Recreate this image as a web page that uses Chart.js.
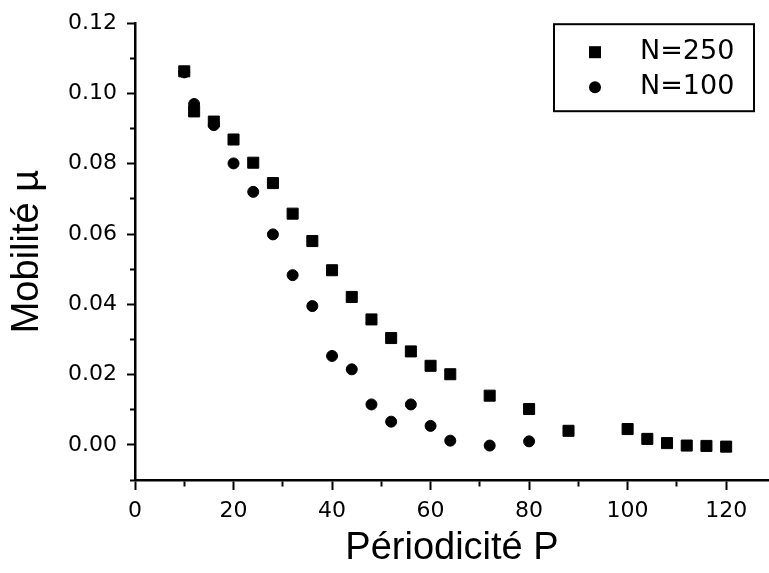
<!DOCTYPE html>
<html>
<head>
<meta charset="utf-8">
<script src="https://cdn.jsdelivr.net/npm/chart.js@4"></script>
<style>
  html, body { margin: 0; padding: 0; background: #fff; }
</style>
</head>
<body>
<canvas id="chart" width="769" height="573"></canvas>
<script>
// values
const periods250 = [10, 12, 16, 20, 24, 28, 32, 36, 40, 44, 48, 52, 56, 60, 64, 72, 80, 88, 100, 104, 108, 112, 116, 120];
const mobility250 = [0.1063, 0.0949, 0.0920, 0.0869, 0.0803, 0.0745, 0.0658, 0.0580, 0.0497, 0.0421, 0.0357, 0.0304, 0.0266, 0.0225, 0.0201, 0.0140, 0.0102, 0.0040, 0.0045, 0.0017, 0.0005, -0.0002, -0.0003, -0.0005];
const periods100 = [10, 12, 16, 20, 24, 28, 32, 36, 40, 44, 48, 52, 56, 60, 64, 72, 80];
const mobility100 = [0.1060, 0.0970, 0.0910, 0.0801, 0.0720, 0.0599, 0.0483, 0.0395, 0.0253, 0.0215, 0.0115, 0.0066, 0.0115, 0.0054, 0.0012, -0.0002, 0.0010];
const seriesLabels = ['N=250', 'N=100'];
const xTitle = 'Périodicité P';
const yTitle = 'Mobilité µ';

function toPoints(xs, ys) {
  return xs.map((x, i) => ({ x: x, y: ys[i] }));
}

const tickFont = { family: 'DejaVu Sans', size: 22 };
const titleFont = { family: 'Liberation Sans', size: 38 };

// small boxed legend in the top right corner of the plot
const boxedLegend = {
  id: 'boxedLegend',
  afterDraw(chart) {
    const ctx = chart.ctx;
    const area = chart.chartArea;
    const left = area.right - 215;
    const top = area.top + 1;
    ctx.save();
    ctx.strokeStyle = '#000';
    ctx.lineWidth = 2;
    ctx.strokeRect(left, top, 200, 87);
    chart.data.datasets.forEach((ds, i) => {
      const cx = left + 41;
      const cy = top + 28 + i * 35;
      ctx.fillStyle = '#000';
      if (ds.pointStyle === 'rect') {
        ctx.fillRect(cx - 6, cy - 6, 12, 12);
      } else {
        ctx.beginPath();
        ctx.arc(cx, cy, 6, 0, Math.PI * 2);
        ctx.fill();
      }
      ctx.font = '27px "DejaVu Sans"';
      ctx.textBaseline = 'middle';
      ctx.textAlign = 'left';
      ctx.fillText(ds.label, left + 86, cy);
    });
    ctx.restore();
  }
};

function isMinorX(v) {
  return Math.round(v) % 20 !== 0;
}
function isMinorY(v) {
  return Math.round(v * 100) % 2 !== 0;
}

new Chart(document.getElementById('chart'), {
  type: 'scatter',
  data: {
    datasets: [
      {
        label: seriesLabels[0],
        data: toPoints(periods250, mobility250),
        pointStyle: 'rect',
        pointRadius: 7.8,
        borderWidth: 1,
        backgroundColor: '#000',
        borderColor: '#000',
      },
      {
        label: seriesLabels[1],
        data: toPoints(periods100, mobility100),
        pointStyle: 'circle',
        pointRadius: 5.5,
        borderWidth: 1,
        backgroundColor: '#000',
        borderColor: '#000',
      },
    ],
  },
  options: {
    responsive: false,
    animation: false,
    devicePixelRatio: 1,
    layout: { autoPadding: false, padding: { top: 22, right: 0, bottom: 0, left: 0 } },
    plugins: {
      legend: { display: false },
      tooltip: { enabled: false },
    },
    scales: {
      x: {
        type: 'linear',
        min: 0,
        max: 128.7,
        afterBuildTicks: (scale) => {
          scale.ticks = scale.ticks.filter((t) => Math.abs(t.value - Math.round(t.value / 10) * 10) < 1e-6);
        },
        afterFit: (scale) => {
          scale.height = 93;
          scale.paddingLeft = 0;
          scale.paddingRight = 0;
        },
        ticks: {
          stepSize: 10,
          includeBounds: false,
          autoSkip: false,
          maxRotation: 0,
          padding: 8,
          color: '#000',
          font: tickFont,
          callback: (v) => (isMinorX(v) ? '' : String(Math.round(v))),
        },
        grid: {
          drawOnChartArea: false,
          tickLength: 10,
          tickWidth: 2,
          tickColor: '#000',
          tickBorderDash: (ctx) => (ctx.tick && isMinorX(ctx.tick.value) ? [5, 30] : []),
        },
        border: { color: '#000', width: 2.5 },
        title: { display: true, text: xTitle, color: '#000', font: titleFont, padding: { top: 0, bottom: 2 } },
      },
      y: {
        type: 'linear',
        min: -0.01,
        max: 0.12,
        afterFit: (scale) => { scale.width = 135; },
        ticks: {
          stepSize: 0.01,
          includeBounds: false,
          autoSkip: false,
          padding: 10,
          color: '#000',
          font: tickFont,
          callback: (v) => (isMinorY(v) ? '' : v.toFixed(2)),
        },
        grid: {
          drawOnChartArea: false,
          tickLength: 8,
          tickWidth: 2,
          tickColor: '#000',
          tickBorderDash: (ctx) => (ctx.tick && isMinorY(ctx.tick.value) ? [0, 3, 4, 30] : []),
        },
        border: { color: '#000', width: 2.5 },
        title: { display: true, text: yTitle, color: '#000', font: titleFont, padding: { top: 5, bottom: 0 } },
      },
    },
  },
  plugins: [boxedLegend],
});
</script>
</body>
</html>
